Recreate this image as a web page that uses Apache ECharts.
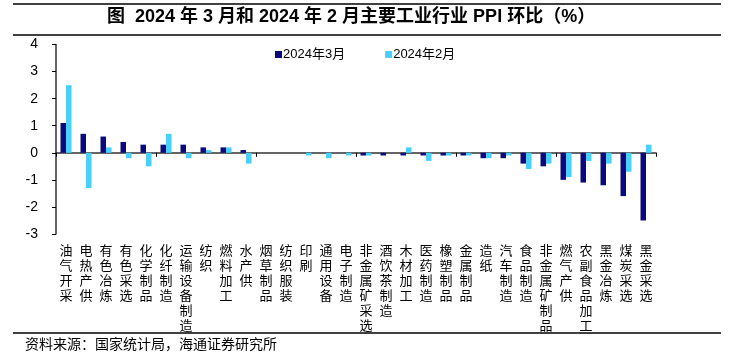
<!DOCTYPE html>
<html>
<head>
<meta charset="utf-8">
<script src="https://cdn.jsdelivr.net/npm/echarts@6/dist/echarts.min.js"></script>
<style>
html,body{margin:0;padding:0;background:#fff;}
#main{width:732px;height:364px;}
</style>
</head>
<body>
<div id="main"></div>
<script>
var categories = ['油气开采','电热产供','有色冶炼','有色采选','化学制品','化纤制造','运输设备制造','纺织','燃料加工','水产供','烟草制品','纺织服装','印刷','通用设备','电子制造','非金属矿采选','酒饮茶制造','木材加工','医药制造','橡塑制品','金属制品','造纸','汽车制造','食品制造','非金属矿制品','燃气产供','农副食品加工','黑金冶炼','煤炭采选','黑金采选'];
var march2024 = [1.1,0.7,0.6,0.4,0.3,0.3,0.3,0.2,0.2,0.1,0,0,0,0,0,-0.1,-0.1,-0.1,-0.1,-0.1,-0.1,-0.2,-0.2,-0.4,-0.5,-1.0,-1.1,-1.2,-1.6,-2.5];
var feb2024 = [2.5,-1.3,0.2,-0.2,-0.5,0.7,-0.2,0.1,0.2,-0.4,0,0,-0.1,-0.2,-0.1,-0.1,0,0.2,-0.3,-0.1,-0.1,-0.2,-0.1,-0.6,-0.4,-0.9,-0.3,-0.4,-0.7,0.3];
var seriesNames = ['2024年3月','2024年2月'];
var yTicks = {min:-3, max:4, interval:1};

var cjk = '"Liberation Sans","Noto Sans CJK SC",sans-serif';
var chart = echarts.init(document.getElementById('main'));
chart.setOption({
  animation:false,
  backgroundColor:'#fff',
  grid:{left:56,right:76,top:44.5,bottom:130},
  legend:{
    data:seriesNames, left:270, top:43, itemWidth:7, itemHeight:7, itemGap:40,
    icon:'rect',
    textStyle:{fontSize:13, color:'#000', fontFamily:cjk, padding:[0,0,0,-4]}
  },
  graphic:[
    {type:'line', shape:{x1:13,y1:4,x2:721,y2:4}, style:{stroke:'#000',lineWidth:1.5}},
    {type:'line', shape:{x1:13,y1:35,x2:721,y2:35}, style:{stroke:'#000',lineWidth:1.5}},
    {type:'line', shape:{x1:13,y1:333,x2:721,y2:333}, style:{stroke:'#000',lineWidth:1.5}},
    {type:'text', left:107, top:8, style:{text:'图  2024 年 3 月和 2024 年 2 月主要工业行业 PPI 环比（%）', font:'bold 18px "Liberation Sans","Noto Sans CJK SC",sans-serif', fill:'#000'}},
    {type:'text', left:25, top:337, style:{text:'资料来源：国家统计局，海通证券研究所', font:'14px "Noto Sans CJK SC",sans-serif', fill:'#000'}}
  ],
  xAxis:[
    {type:'category', data:categories, position:'bottom',
     axisLine:{onZero:true, lineStyle:{color:'#333', width:1.5}},
     axisTick:{show:true, length:4, lineStyle:{color:'#000'}},
     axisLabel:{show:false}},
    {type:'category', data:categories, position:'bottom',
     axisLine:{show:false, onZero:false}, axisTick:{show:false},
     axisLabel:{interval:0, margin:9, fontSize:13, lineHeight:15, color:'#000', fontFamily:'"Noto Sans CJK SC",sans-serif',
       verticalAlign:'top',
       formatter:function(v){return v.split('').join('\n');}}}
  ],
  yAxis:{type:'value', min:yTicks.min, max:yTicks.max, interval:yTicks.interval,
    axisLine:{show:true, lineStyle:{color:'#333', width:1.5}},
    axisTick:{show:true, length:4, lineStyle:{color:'#000'}},
    splitLine:{show:false},
    axisLabel:{fontSize:14, color:'#000', margin:18, fontFamily:'"Liberation Sans",sans-serif'}},
  series:[
    {name:seriesNames[0], type:'bar', data:march2024, barWidth:5.5, barGap:'0%', itemStyle:{color:'#0A0A7E'}},
    {name:seriesNames[1], type:'bar', data:feb2024, barWidth:5.5, barGap:'0%', itemStyle:{color:'#48CFFC'}}
  ]
});
</script>
</body>
</html>
